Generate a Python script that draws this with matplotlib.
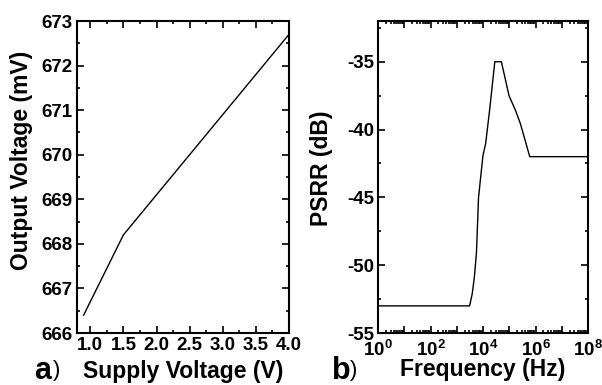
import numpy as np
import matplotlib
matplotlib.use("Agg")
import matplotlib.pyplot as plt
from matplotlib.ticker import MultipleLocator, LogLocator, FuncFormatter, NullFormatter

plt.rcParams["font.family"] = ["Liberation Sans", "DejaVu Sans"]
plt.rcParams["font.weight"] = "bold"
plt.rcParams["axes.unicode_minus"] = False
plt.rcParams["mathtext.fontset"] = "custom"
plt.rcParams["mathtext.bf"] = "Liberation Sans:bold"
plt.rcParams["mathtext.rm"] = "Liberation Sans:bold"

# (a) output voltage vs supply voltage
supply_v = [0.9, 1.5, 2.0, 2.5, 3.0, 3.5, 4.0]
output_mv = [666.4, 668.2, 669.1, 670.0, 670.9, 671.8, 672.7]

# (b) PSRR vs frequency
freq_exp = [0.0, 3.49, 3.59, 3.67, 3.75, 3.83, 4.0, 4.1, 4.25, 4.45, 4.7,
            4.84, 4.99, 5.24, 5.43, 5.78, 8.0]
psrr_db = [-53.0, -53.0, -52.1, -50.9, -49.1, -45.0, -41.9, -41.05, -38.6,
           -35.0, -35.0, -36.2, -37.5, -38.6, -39.6, -42.0, -42.0]
freq_hz = [10 ** e for e in freq_exp]

fig = plt.figure(figsize=(6.02, 3.85), dpi=100)
ax1 = fig.add_axes([77 / 602, 52 / 385, 212 / 602, 312 / 385])
ax2 = fig.add_axes([378 / 602, 52 / 385, 210 / 602, 312 / 385])

for ax in (ax1, ax2):
    for s in ax.spines.values():
        s.set_linewidth(1.5)
    ax.tick_params(which="both", direction="in", top=True, right=True,
                   width=1.2, labelsize=13.5, pad=3)
    ax.tick_params(which="major", length=5)
    ax.tick_params(which="minor", length=2.5)

ax1.plot(supply_v, output_mv, color="black", lw=1)
ax1.set_xlim(0.8, 4.0)
ax1.set_ylim(666, 673)
ax1.xaxis.set_major_locator(MultipleLocator(0.5))
ax1.xaxis.set_minor_locator(MultipleLocator(0.25))
ax1.yaxis.set_major_locator(MultipleLocator(1))
ax1.yaxis.set_minor_locator(MultipleLocator(0.5))
ax1.xaxis.set_major_formatter(FuncFormatter(lambda v, p: f"{v:.1f}"))
ax1.set_xlabel("Supply Voltage (V)", fontsize=16.5, fontweight="bold")
ax1.xaxis.set_label_coords(0.5, -0.088)
ax1.set_ylabel("Output Voltage (mV)", fontsize=16.5, fontweight="bold")
ax1.yaxis.set_label_coords(-0.208, 0.554)

ax2.plot(freq_hz, psrr_db, color="black", lw=1)
ax2.set_xscale("log")
ax2.set_xlim(1, 1e8)
ax2.set_ylim(-55, -32)
ax2.xaxis.set_major_locator(LogLocator(base=10, numticks=20))
ax2.xaxis.set_minor_locator(LogLocator(base=10, subs=np.arange(2, 10), numticks=20))
ax2.xaxis.set_minor_formatter(NullFormatter())
ax2.xaxis.set_major_formatter(FuncFormatter(
    lambda v, p: r"$\mathbf{10^{%d}}$" % round(np.log10(v)) if round(np.log10(v)) % 2 == 0 else ""))
ax2.tick_params(axis="x", which="major", pad=5)
ax2.yaxis.set_major_locator(MultipleLocator(5))
ax2.yaxis.set_minor_locator(MultipleLocator(2.5))
ax2.set_xlabel("Frequency (Hz)", fontsize=16.5, fontweight="bold")
ax2.xaxis.set_label_coords(0.5, -0.08)
ax2.set_ylabel("PSRR (dB)", fontsize=16.5, fontweight="bold")
ax2.yaxis.set_label_coords(-0.214, 0.529)

# panel tags
fig.text(34 / 602, 1 - 379 / 385, "a", fontsize=22, fontweight="bold", ha="left", va="baseline")
fig.text(53 / 602, 1 - 376 / 385, ")", fontsize=16, fontweight="normal", ha="left", va="baseline")
fig.text(332 / 602, 1 - 379 / 385, "b", fontsize=22, fontweight="bold", ha="left", va="baseline")
fig.text(350 / 602, 1 - 376 / 385, ")", fontsize=16, fontweight="normal", ha="left", va="baseline")

fig.savefig("out.png", dpi=100)
